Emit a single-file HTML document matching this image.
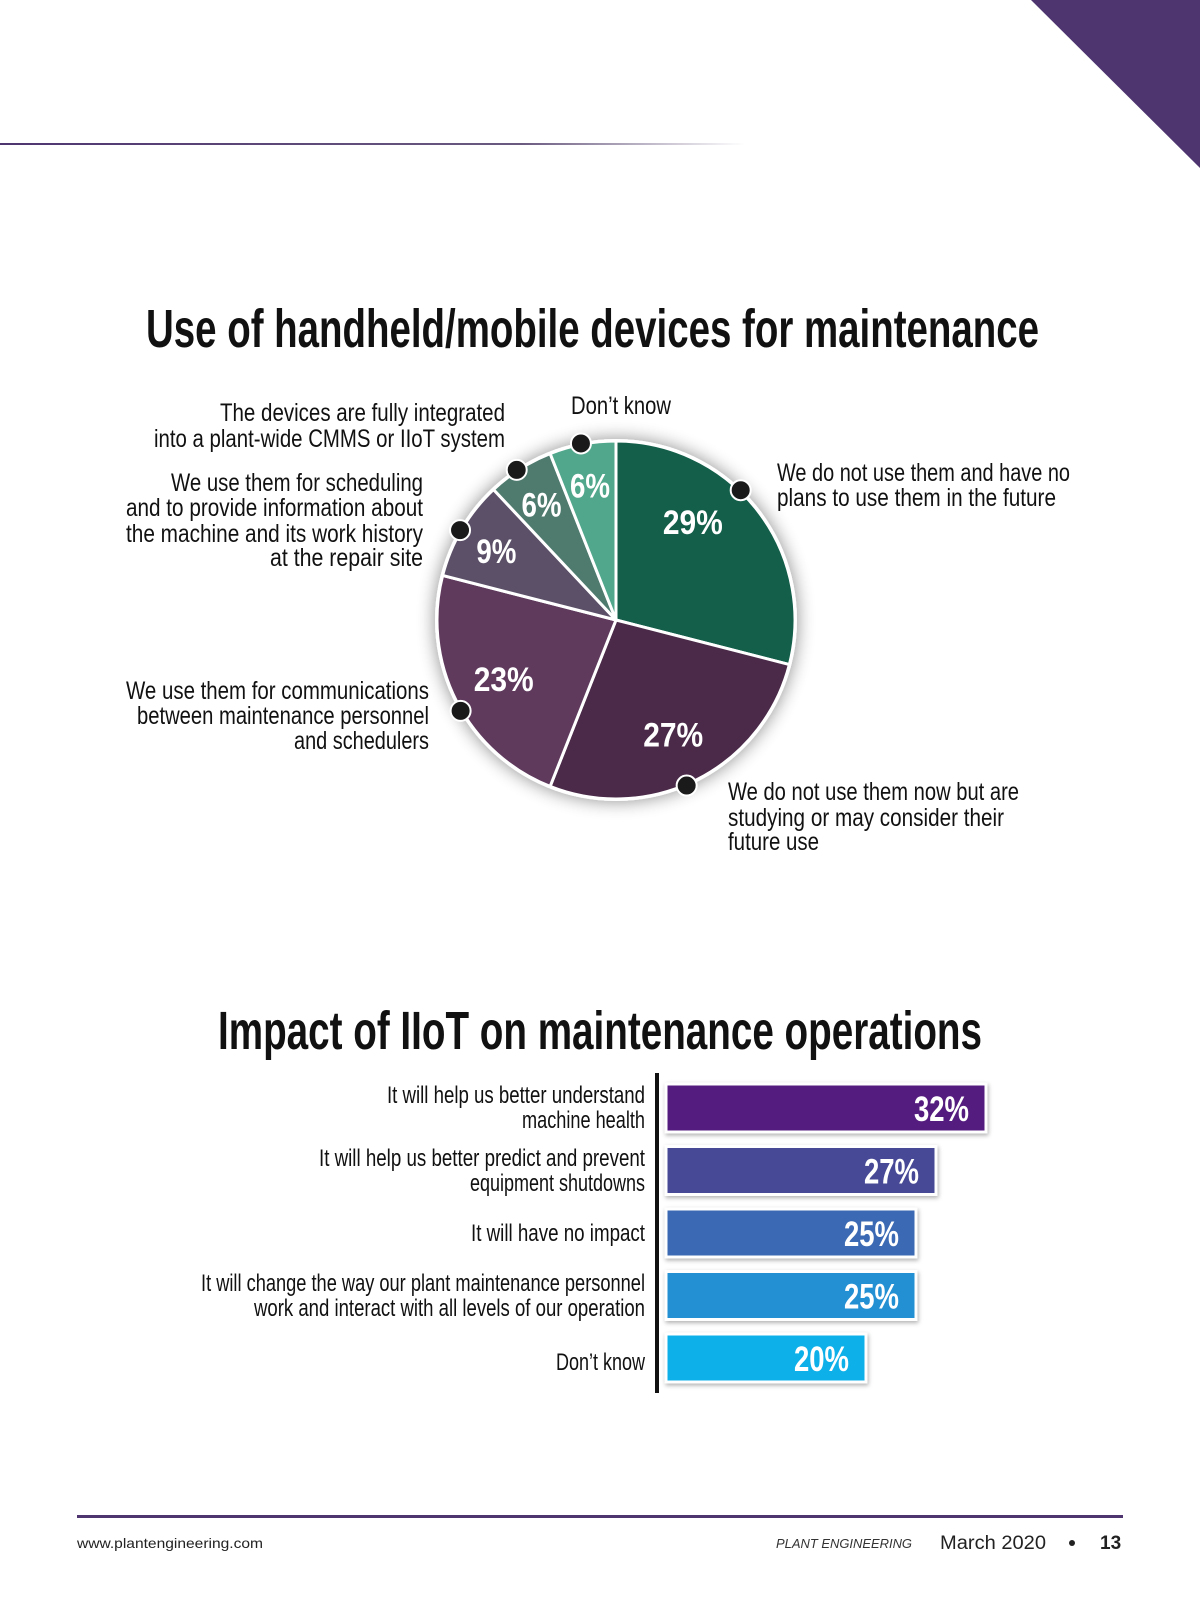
<!DOCTYPE html>
<html><head><meta charset="utf-8"><style>
html,body{margin:0;padding:0;background:#fff}
svg{display:block}
.c{font-family:"Liberation Sans Narrow","Liberation Sans",sans-serif}
</style></head><body>
<svg id="page" width="1200" height="1600" viewBox="0 0 1200 1600" xmlns="http://www.w3.org/2000/svg">
<defs>
<linearGradient id="rule" x1="0" x2="1" y1="0" y2="0"><stop offset="0" stop-color="#4e3570"/><stop offset="0.7" stop-color="#6a5a80"/><stop offset="1" stop-color="#fff"/></linearGradient>
<filter id="glow" x="-30%" y="-30%" width="160%" height="160%"><feGaussianBlur in="SourceAlpha" stdDeviation="9"/><feComponentTransfer><feFuncA type="linear" slope="0.45"/></feComponentTransfer><feMerge><feMergeNode/><feMergeNode in="SourceGraphic"/></feMerge></filter>
<filter id="bsh" x="-10%" y="-30%" width="120%" height="160%"><feDropShadow dx="1" dy="2" stdDeviation="2" flood-opacity="0.3"/></filter>
</defs>
<polygon points="1031,0 1200,0 1200,168" fill="#4e3570"/>
<rect x="0" y="143" width="745" height="2" fill="url(#rule)"/>

<text class="c" x="146" y="347" font-size="54" font-weight="bold" fill="#111" textLength="893" lengthAdjust="spacingAndGlyphs">Use of handheld/mobile devices for maintenance</text>
<g id="pie"></g>

<g class="c" font-size="25" fill="#111">
<text x="220" y="421" textLength="285" lengthAdjust="spacingAndGlyphs">The devices are fully integrated</text>
<text x="154" y="447" textLength="351" lengthAdjust="spacingAndGlyphs">into a plant-wide CMMS or IIoT system</text>
<text x="571" y="414" textLength="100" lengthAdjust="spacingAndGlyphs">Don’t know</text>
<text x="171" y="491" textLength="252" lengthAdjust="spacingAndGlyphs">We use them for scheduling</text>
<text x="126" y="516" textLength="297" lengthAdjust="spacingAndGlyphs">and to provide information about</text>
<text x="126" y="542" textLength="297" lengthAdjust="spacingAndGlyphs">the machine and its work history</text>
<text x="270" y="566" textLength="153" lengthAdjust="spacingAndGlyphs">at the repair site</text>
<text x="126" y="699" textLength="303" lengthAdjust="spacingAndGlyphs">We use them for communications</text>
<text x="137" y="724" textLength="292" lengthAdjust="spacingAndGlyphs">between maintenance personnel</text>
<text x="294" y="749" textLength="135" lengthAdjust="spacingAndGlyphs">and schedulers</text>
<text x="777" y="481" textLength="293" lengthAdjust="spacingAndGlyphs">We do not use them and have no</text>
<text x="777" y="506" textLength="279" lengthAdjust="spacingAndGlyphs">plans to use them in the future</text>
<text x="728" y="800" textLength="291" lengthAdjust="spacingAndGlyphs">We do not use them now but are</text>
<text x="728" y="826" textLength="276" lengthAdjust="spacingAndGlyphs">studying or may consider their</text>
<text x="728" y="850" textLength="91" lengthAdjust="spacingAndGlyphs">future use</text>
</g>

<text class="c" x="218" y="1049" font-size="54" font-weight="bold" fill="#111" textLength="764" lengthAdjust="spacingAndGlyphs">Impact of IIoT on maintenance operations</text>
<g class="c" font-size="24" fill="#111">
<text x="387" y="1103" textLength="258" lengthAdjust="spacingAndGlyphs">It will help us better understand</text>
<text x="522" y="1128" textLength="123" lengthAdjust="spacingAndGlyphs">machine health</text>
<text x="319" y="1166" textLength="326" lengthAdjust="spacingAndGlyphs">It will help us better predict and prevent</text>
<text x="470" y="1191" textLength="175" lengthAdjust="spacingAndGlyphs">equipment shutdowns</text>
<text x="471" y="1241" textLength="174" lengthAdjust="spacingAndGlyphs">It will have no impact</text>
<text x="201" y="1291" textLength="444" lengthAdjust="spacingAndGlyphs">It will change the way our plant maintenance personnel</text>
<text x="254" y="1316" textLength="391" lengthAdjust="spacingAndGlyphs">work and interact with all levels of our operation</text>
<text x="556" y="1370" textLength="89" lengthAdjust="spacingAndGlyphs">Don’t know</text>
</g>
<rect x="655" y="1073" width="4" height="320" fill="#111"/>
<g id="bars"></g>

<rect x="77" y="1515" width="1046" height="3" fill="#4e3570"/>
<text x="77" y="1548" font-family="Liberation Sans,sans-serif" font-size="14" fill="#222" textLength="186" lengthAdjust="spacingAndGlyphs">www.plantengineering.com</text>
<text x="776" y="1548" font-family="Liberation Sans,sans-serif" font-size="13" font-style="italic" fill="#333" textLength="136" lengthAdjust="spacingAndGlyphs">PLANT ENGINEERING</text>
<text x="940" y="1549" font-family="Liberation Sans,sans-serif" font-size="19" fill="#222" textLength="106" lengthAdjust="spacingAndGlyphs">March 2020</text>
<circle cx="1072" cy="1543" r="3" fill="#222"/>
<text x="1100" y="1549" font-family="Liberation Sans,sans-serif" font-size="19" font-weight="bold" fill="#222">13</text>
</svg>
<script>
const pieCategories = ["We do not use them and have no plans","We do not use them now but are studying","Communications","Scheduling and work history","Fully integrated","Don't know"];
const pieValues = [29, 27, 23, 9, 6, 6];
const pieColors = ["#135f4a","#4a2a48","#5f3a5d","#5b5068","#4f7b6f","#50a78b"];
const pieDotFrac = [0.42, 0.54, 0.46, 0.48, 0.45, 0.48];
const pieLabelFrac = [0.36, 0.5, 0.5, 0.5, 0.5, 0.5];
const barCategories = ["Understand machine health","Predict and prevent shutdowns","No impact","Change the way personnel work","Don't know"];
const barValues = [32, 27, 25, 25, 20];
const barColors = ["#551d7f","#464896","#3a69b3","#2290d3","#0cb0e8"];

const NS = "http://www.w3.org/2000/svg";
function mk(tag, attrs, parent){const e=document.createElementNS(NS,tag);for(const k in attrs)e.setAttribute(k,attrs[k]);parent.appendChild(e);return e;}

const cx=616, cy=620, R=179;
const pie=document.getElementById('pie');
const total=pieValues.reduce((a,b)=>a+b,0);
function pt(frac,r){const a=frac*2*Math.PI;return [cx+r*Math.sin(a), cy-r*Math.cos(a)];}
const bg=mk('circle',{cx:cx,cy:cy,r:R+2,fill:'#fff',filter:'url(#glow)'},pie);


let acc=0;
const labelsG=mk('g',{},pie);
pieValues.forEach((v,i)=>{
  const s=acc/total, e=(acc+v)/total; acc+=v;
  const [x1,y1]=pt(s,R), [x2,y2]=pt(e,R);
  const large=(e-s)>0.5?1:0;
  const p=mk('path',{d:`M${cx},${cy} L${x1},${y1} A${R},${R} 0 ${large} 1 ${x2},${y2} Z`,fill:pieColors[i],stroke:'#fff','stroke-width':3,'stroke-linejoin':'round'},pie);
  
  
  const m=s+(e-s)*pieLabelFrac[i];
  const [lx,ly]=pt(m, v<10?139:126);
  const txt=v+'%';
  const t=mk('text',{x:lx-txt.length*10,y:ly+14,'font-size':34,'font-weight':'bold',fill:'#fff','class':'c',textLength:txt.length*20,lengthAdjust:'spacingAndGlyphs'},labelsG);
  t.textContent=txt;
  
  
});
acc=0;
pieValues.forEach((v,i)=>{
  const s=acc/total; acc+=v;
  const f=s+pieDotFrac[i]*v/total;
  const [dx,dy]=pt(f,R+1);
  const d=mk('circle',{cx:dx,cy:dy,r:10,fill:'#1a1a1a',stroke:'#fff','stroke-width':2},pie);
  
  
});
pie.appendChild(labelsG);

const bars=document.getElementById('bars');
const x0=666, pxPer=10, y0=1084, pitch=62.5, bh=48;
barValues.forEach((v,i)=>{
  const y=y0+i*pitch, w=v*pxPer;
  const r=mk('rect',{x:x0,y:y,width:w,height:bh,fill:barColors[i],stroke:'#fff','stroke-width':3,filter:'url(#bsh)'},bars);
  
  
  const txt=v+'%';
  const t=mk('text',{x:x0+w-17-55,y:y+bh/2+13,'font-size':35,'font-weight':'bold',fill:'#fff','class':'c',textLength:55,lengthAdjust:'spacingAndGlyphs'},bars);
  t.textContent=txt;
  
  
});
</script>
</body></html>
